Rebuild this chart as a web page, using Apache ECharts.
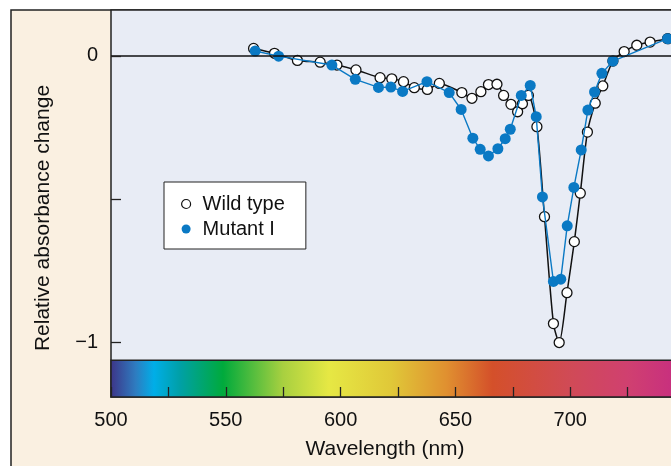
<!DOCTYPE html>
<html>
<head>
<meta charset="utf-8">
<script src="https://cdn.jsdelivr.net/npm/echarts@6/dist/echarts.min.js"></script>
<style>
  html, body { margin: 0; padding: 0; background: #fff; }
  #chart { width: 671px; height: 466px; }
</style>
</head>
<body>
<div id="chart"></div>
<script>
// wavelength (nm) and relative absorbance change
const wildNm = [562.1, 571.2, 581.2, 591.1, 598.4, 606.7, 617.2, 622.3, 627.4, 632.1, 637.8, 643.0,
  652.8, 657.2, 661.1, 664.4, 668.1, 671.0, 674.2, 677.1, 679.2, 681.8, 685.5, 688.8, 692.7,
  695.2, 698.6, 701.8, 704.4, 707.5, 710.9, 714.2, 718.6, 723.5, 729.0, 734.8, 742.4]
const wildVal = [0.026, 0.009, -0.016, -0.022, -0.032, -0.049, -0.076, -0.080, -0.090, -0.111, -0.117, -0.096,
  -0.128, -0.148, -0.125, -0.100, -0.099, -0.138, -0.169, -0.195, -0.167, -0.138, -0.247, -0.561, -0.934,
  -1.0, -0.826, -0.648, -0.479, -0.266, -0.165, -0.105, -0.018, 0.015, 0.037, 0.048, 0.060]

const mutNm = [562.8, 573.0, 596.2, 606.4, 616.5, 621.9, 627.0, 637.6, 647.3, 652.5, 657.6, 660.8,
  664.4, 668.5, 671.7, 673.9, 678.7, 682.6, 685.2, 687.9, 692.7, 695.9, 698.7, 701.6, 704.8,
  707.7, 710.6, 713.8, 718.6, 742.4]
const mutVal = [0.017, -0.001, -0.032, -0.082, -0.110, -0.109, -0.124, -0.090, -0.128, -0.187, -0.287, -0.326,
  -0.349, -0.324, -0.289, -0.256, -0.138, -0.103, -0.212, -0.492, -0.787, -0.779, -0.593, -0.459, -0.328,
  -0.189, -0.126, -0.061, -0.018, 0.060]

const yTicks = [0, -0.5, -1]
const yLabels = [0, -1]

// spectrum strip under the plot: [wavelength, colour]
const spectrumNm = [501, 511, 519, 530, 549, 575, 595, 622, 646, 666, 701, 725, 744]
const spectrumColor = ['#3c3a8c', '#2e7cc0', '#00aee8', '#00a0a8', '#00aa3c', '#a8d040', '#e6e844',
  '#e0c838', '#e09030', '#d4502a', '#d04a58', '#d04070', '#c8307e']

const FONT = 'Liberation Sans, Arial, Helvetica, sans-serif'
const X_MIN = 500
const X_MAX = 750

const wildData = wildNm.map((x, i) => [x, wildVal[i]])
const mutData = mutNm.map((x, i) => [x, mutVal[i]])
const stops = spectrumNm.map((nm, i) => ({ offset: (nm - X_MIN) / (X_MAX - X_MIN), color: spectrumColor[i] }))

const chart = echarts.init(document.getElementById('chart'))
chart.setOption({
  animation: false,
  backgroundColor: '#fff',
  graphic: [
    {
      type: 'rect',
      z: -10,
      shape: { x: 11, y: 10, width: 720, height: 520 },
      style: { fill: '#faf0e1', stroke: '#222', lineWidth: 1.5 }
    },
    {
      type: 'text',
      x: 43,
      y: 218,
      rotation: Math.PI / 2,
      style: {
        text: 'Relative absorbance change',
        font: '21px ' + FONT,
        fill: '#111',
        align: 'center',
        verticalAlign: 'middle'
      }
    },
    {
      type: 'text',
      x: 385,
      y: 449,
      style: {
        text: 'Wavelength (nm)',
        font: '21px ' + FONT,
        fill: '#111',
        align: 'center',
        verticalAlign: 'middle'
      }
    }
  ],
  grid: {
    left: 111,
    top: 10,
    width: 574,
    height: 387,
    outerBoundsMode: 'none',
    show: true,
    backgroundColor: '#e8ecf5',
    borderColor: '#222',
    borderWidth: 1.5
  },
  legend: {
    orient: 'vertical',
    left: 164,
    top: 182,
    backgroundColor: '#fff',
    borderColor: '#222',
    borderWidth: 1,
    borderRadius: 0,
    padding: [12, 21, 10, 17],
    itemGap: 5,
    itemWidth: 9,
    itemHeight: 9,
    textStyle: {
      fontFamily: FONT,
      fontSize: 20,
      lineHeight: 20,
      color: '#111',
      padding: [0, 0, 0, 7]
    },
    data: [
      { name: 'Wild type', icon: 'circle', itemStyle: { color: '#fff', borderColor: '#111', borderWidth: 1.2 } },
      { name: 'Mutant I', icon: 'circle', itemStyle: { color: '#0a79c4', borderWidth: 0 } }
    ]
  },
  xAxis: {
    type: 'value',
    min: X_MIN,
    max: X_MAX,
    interval: 25,
    z: 5,
    splitLine: { show: false },
    axisLine: { show: false, onZero: false },
    axisTick: {
      show: true,
      inside: true,
      length: 10,
      lineStyle: { color: '#222', width: 1.3 }
    },
    axisLabel: {
      margin: 13,
      fontFamily: FONT,
      fontSize: 20,
      color: '#111',
      showMaxLabel: false,
      formatter: v => (v % 50 === 0 && v <= 700 ? String(v) : '')
    }
  },
  yAxis: {
    type: 'value',
    min: -1.19,
    max: 0.16,
    z: 5,
    splitLine: { show: false },
    axisLine: { show: false, onZero: false },
    axisTick: {
      show: true,
      inside: true,
      length: 10,
      customValues: yTicks,
      lineStyle: { color: '#222', width: 1.3 }
    },
    axisLabel: {
      margin: 13,
      fontFamily: FONT,
      fontSize: 20,
      color: '#111',
      customValues: yLabels,
      formatter: v => (v < 0 ? '\u2212' + Math.abs(v) : String(v))
    }
  },
  series: [
    {
      name: 'Wild type',
      type: 'line',
      z: 2,
      data: wildData,
      smooth: 0.25,
      symbol: 'circle',
      symbolSize: 10,
      itemStyle: { color: '#fff', borderColor: '#111', borderWidth: 1.3 },
      lineStyle: { color: '#111', width: 1.5 },
      emphasis: { disabled: true },
      markLine: {
        silent: true,
        symbol: 'none',
        label: { show: false },
        lineStyle: { color: '#111', width: 1.5, type: 'solid' },
        data: [{ yAxis: 0 }]
      },
      markArea: {
        silent: true,
        itemStyle: {
          color: { type: 'linear', x: 0, y: 0, x2: 1, y2: 0, colorStops: stops },
          borderColor: '#222',
          borderWidth: 1.5
        },
        data: [[{ xAxis: X_MIN, yAxis: -1.19 }, { xAxis: X_MAX, yAxis: -1.062 }]]
      }
    },
    {
      name: 'Mutant I',
      type: 'line',
      z: 3,
      data: mutData,
      symbol: 'circle',
      symbolSize: 11,
      itemStyle: { color: '#0a79c4', borderWidth: 0 },
      lineStyle: { color: '#0a79c4', width: 1.4 },
      emphasis: { disabled: true }
    }
  ]
})
</script>
</body>
</html>
